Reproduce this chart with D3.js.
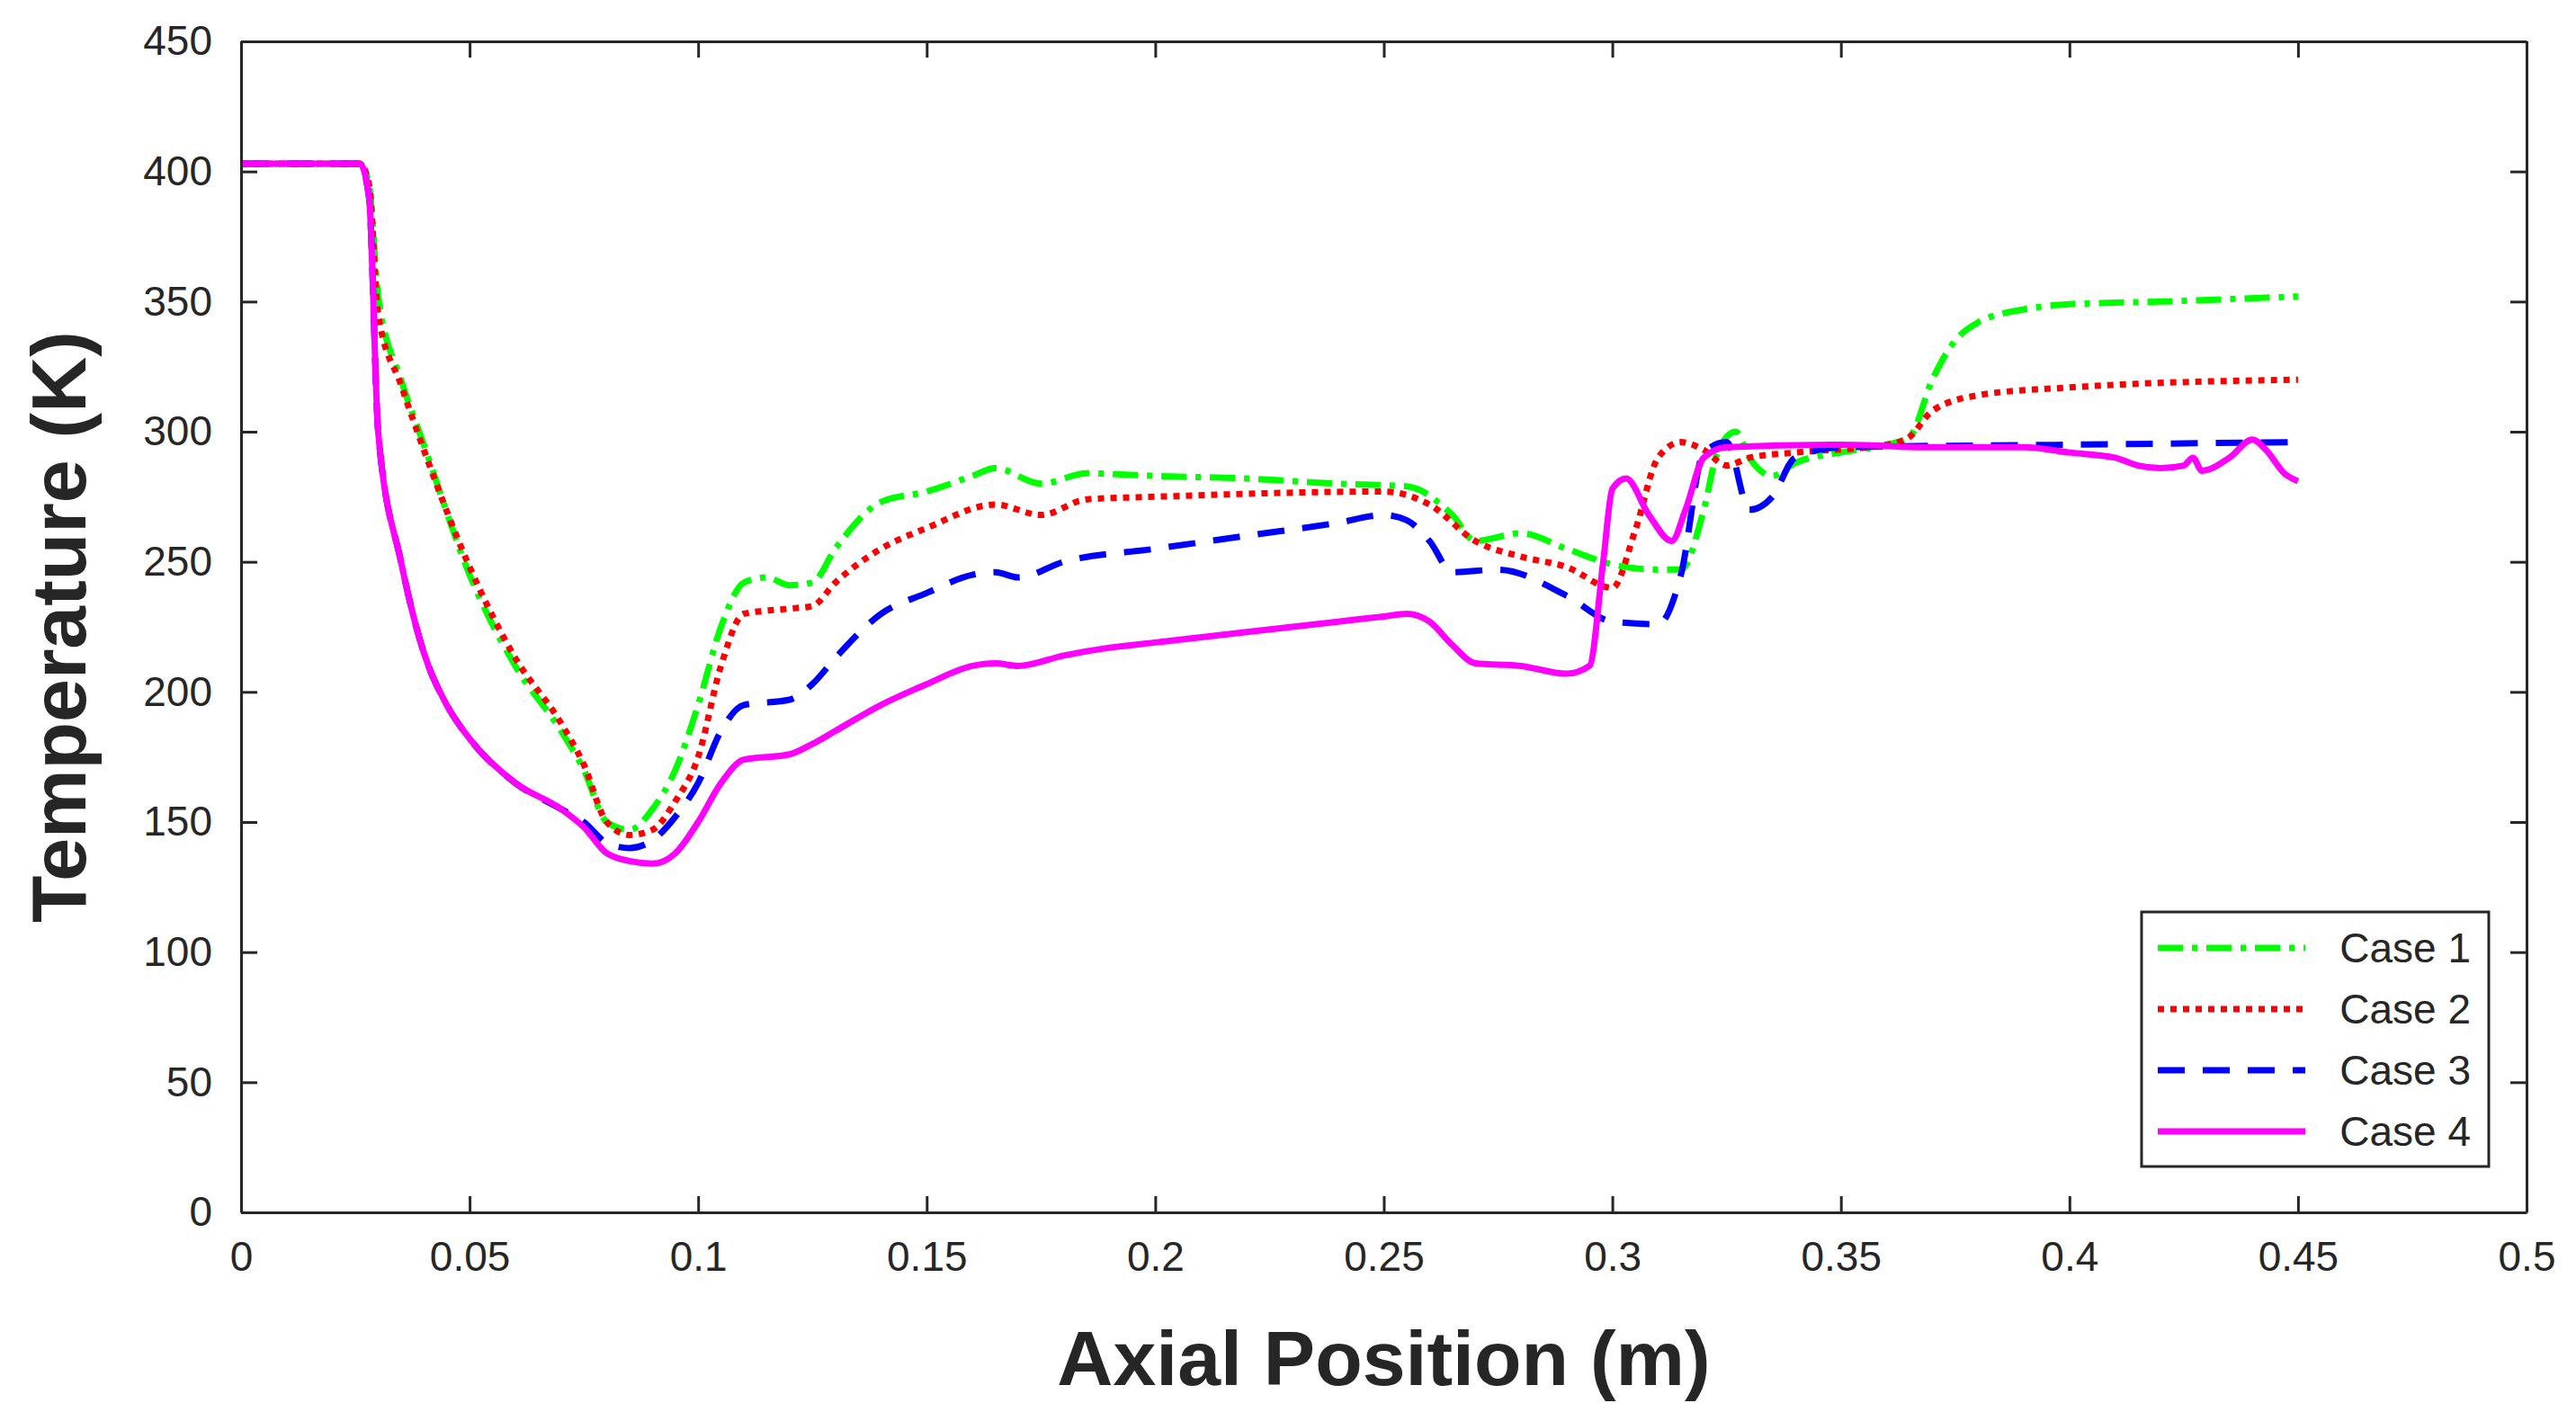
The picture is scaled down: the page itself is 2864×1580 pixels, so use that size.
<!DOCTYPE html>
<html><head><meta charset="utf-8">
<script src="https://cdn.jsdelivr.net/npm/d3@7"></script>
<style>body{margin:0;background:#fff}</style>
</head><body>
<svg id="chart" width="2864" height="1580"></svg>
<script>
// ── Data ──────────────────────────────────────────────────────────────────
const xTicks = [0, 0.05, 0.1, 0.15, 0.2, 0.25, 0.3, 0.35, 0.4, 0.45, 0.5];
const yTicks = [0, 50, 100, 150, 200, 250, 300, 350, 400, 450];

const case1 = [[0,403],[0.026,403],[0.028,395],[0.03,352],[0.035,320],[0.04,295],[0.05,245],[0.06,210],[0.07,185],[0.075,170],[0.08,150],[0.085,147],[0.09,155],[0.095,170],[0.1,195],[0.105,225],[0.11,242],[0.115,244],[0.12,241],[0.125,242],[0.13,255],[0.14,273],[0.15,277],[0.16,283],[0.165,286],[0.175,280],[0.185,284],[0.2,283],[0.22,282],[0.24,280],[0.255,279],[0.265,268],[0.27,258],[0.28,261],[0.29,255],[0.3,249],[0.31,247],[0.315,247],[0.32,270],[0.323,292],[0.327,300],[0.33,290],[0.335,283],[0.34,288],[0.35,292],[0.36,295],[0.365,298],[0.37,320],[0.375,335],[0.38,342],[0.39,347],[0.4,349],[0.42,350],[0.45,352]];
const case2 = [[0,403],[0.026,403],[0.028,395],[0.03,345],[0.035,318],[0.04,293],[0.05,248],[0.06,213],[0.07,188],[0.075,172],[0.08,150],[0.085,145],[0.09,147],[0.095,158],[0.1,175],[0.105,210],[0.11,230],[0.12,232],[0.125,233],[0.13,242],[0.14,255],[0.15,263],[0.165,272],[0.175,268],[0.185,274],[0.2,275],[0.25,277],[0.26,272],[0.27,258],[0.28,252],[0.29,248],[0.3,240],[0.305,262],[0.31,290],[0.315,296],[0.32,293],[0.325,287],[0.33,290],[0.34,292],[0.36,295],[0.365,298],[0.37,308],[0.38,314],[0.4,317],[0.45,320]];
const case3 = [[0,403],[0.026,403],[0.028,390],[0.03,300],[0.035,250],[0.04,215],[0.045,195],[0.05,182],[0.06,165],[0.07,155],[0.075,150],[0.08,142],[0.085,140],[0.09,143],[0.095,152],[0.1,165],[0.105,185],[0.11,195],[0.12,197],[0.125,203],[0.13,213],[0.14,230],[0.15,238],[0.16,245],[0.165,246],[0.17,244],[0.18,250],[0.2,255],[0.22,260],[0.24,265],[0.25,268],[0.255,266],[0.26,258],[0.265,246],[0.275,247],[0.29,237],[0.3,227],[0.31,226],[0.315,245],[0.32,292],[0.325,296],[0.33,270],[0.335,275],[0.34,290],[0.35,294],[0.4,295],[0.45,296]];
const case4 = [[0,403],[0.026,403],[0.028,390],[0.03,300],[0.035,250],[0.04,215],[0.045,195],[0.05,182],[0.06,165],[0.07,155],[0.075,148],[0.08,138],[0.085,135],[0.09,134],[0.095,138],[0.1,150],[0.105,165],[0.11,174],[0.12,176],[0.125,180],[0.13,185],[0.14,195],[0.15,203],[0.16,210],[0.165,211],[0.17,210],[0.18,214],[0.19,217],[0.2,219],[0.22,223],[0.24,227],[0.25,229],[0.255,230],[0.26,227],[0.265,218],[0.27,211],[0.28,210],[0.29,207],[0.295,210],[0.298,250],[0.3,278],[0.303,282],[0.308,268],[0.313,258],[0.316,270],[0.32,290],[0.325,294],[0.35,295],[0.37,294],[0.39,294],[0.4,292],[0.41,290],[0.415,287],[0.42,286],[0.425,287],[0.427,290],[0.429,285],[0.435,290],[0.44,297],[0.443,293],[0.447,284],[0.45,281]];

const series = [
  { name: "Case 1", data: case1, color: "#00ff00", dash: "28 10 6 10", width: 7 },
  { name: "Case 2", data: case2, color: "#ff0000", dash: "7 7", width: 7 },
  { name: "Case 3", data: case3, color: "#0000ff", dash: "30 20", width: 7 },
  { name: "Case 4", data: case4, color: "#ff00ff", dash: null, width: 7 }
];

// ── Layout ────────────────────────────────────────────────────────────────
const plotLeft = 268, plotRight = 2809, plotTop = 46, plotBottom = 1348;
const svg = d3.select("#chart");
const x = d3.scaleLinear().domain([0, 0.5]).range([plotLeft, plotRight]);
const y = d3.scaleLinear().domain([0, 450]).range([plotBottom, plotTop]);
const font = "Arial, 'Liberation Sans', sans-serif";

// ── Lines ─────────────────────────────────────────────────────────────────
const line = d3.line().x(d => x(d[0])).y(d => y(d[1])).curve(d3.curveMonotoneX);
svg.append("g").selectAll("path").data(series).join("path")
  .attr("d", d => line(d.data))
  .attr("fill", "none")
  .attr("stroke", d => d.color)
  .attr("stroke-width", d => d.width)
  .attr("stroke-dasharray", d => d.dash)
  .attr("stroke-linejoin", "round");

// ── Axes (MATLAB box, inward ticks) ───────────────────────────────────────
const tickLen = 18;
const axes = [
  [d3.axisBottom(x).tickValues(xTicks).tickFormat(d3.format("")), `translate(0,${plotBottom})`, true],
  [d3.axisTop(x).tickValues(xTicks), `translate(0,${plotTop})`, false],
  [d3.axisLeft(y).tickValues(yTicks), `translate(${plotLeft},0)`, true],
  [d3.axisRight(y).tickValues(yTicks), `translate(${plotRight},0)`, false]
];
axes.forEach(([ax, tr, labels]) => {
  ax.tickSizeInner(-tickLen).tickSizeOuter(0).tickPadding(tickLen + 14);
  if (!labels) ax.tickFormat(() => "");
  const g = svg.append("g").attr("transform", tr).call(ax);
  g.select(".domain").attr("stroke", "#262626").attr("stroke-width", 3);
  g.selectAll(".tick line").attr("stroke", "#262626").attr("stroke-width", 3);
  g.selectAll("text").attr("font-family", font).attr("font-size", 46).attr("fill", "#262626");
});

// ── Axis titles ───────────────────────────────────────────────────────────
svg.append("text").attr("x", (plotLeft + plotRight) / 2).attr("y", 1540)
  .attr("text-anchor", "middle").attr("font-family", font).attr("font-weight", "bold")
  .attr("font-size", 86).attr("fill", "#262626").text("Axial Position (m)");
svg.append("text").attr("transform", `translate(95,${(plotTop + plotBottom) / 2}) rotate(-90)`)
  .attr("text-anchor", "middle").attr("font-family", font).attr("font-weight", "bold")
  .attr("font-size", 86).attr("fill", "#262626").text("Temperature (K)");

// ── Legend ────────────────────────────────────────────────────────────────
const legend = svg.append("g").attr("transform", "translate(2381,1014)");
legend.append("rect").attr("width", 386).attr("height", 283)
  .attr("fill", "#fff").attr("stroke", "#262626").attr("stroke-width", 3);
series.forEach((s, i) => {
  const ly = 40 + i * 68;
  legend.append("line").attr("x1", 18).attr("x2", 182).attr("y1", ly).attr("y2", ly)
    .attr("stroke", s.color).attr("stroke-width", s.width).attr("stroke-dasharray", s.dash);
  legend.append("text").attr("x", 366).attr("y", ly + 16).attr("text-anchor", "end")
    .attr("font-family", font).attr("font-size", 46).attr("fill", "#262626").text(s.name);
});
</script>
</body></html>
